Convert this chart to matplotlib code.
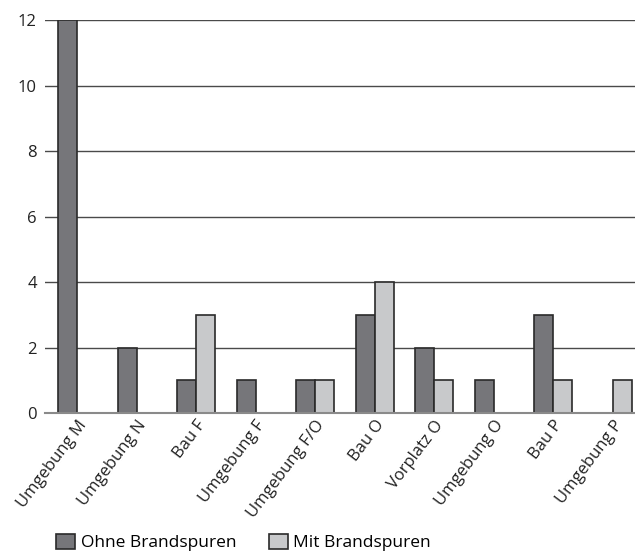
import numpy as np
import matplotlib.pyplot as plt

categories = ['Umgebung M', 'Umgebung N', 'Bau F', 'Umgebung F', 'Umgebung F/O',
              'Bau O', 'Vorplatz O', 'Umgebung O', 'Bau P', 'Umgebung P']
ohne = [12, 2, 1, 1, 1, 3, 2, 1, 3, 0]
mit = [0, 0, 3, 0, 1, 4, 1, 0, 1, 1]
yticks = [0, 2, 4, 6, 8, 10, 12]

plt.rcParams['font.family'] = ['Open Sans', 'DejaVu Sans']
plt.rcParams['font.size'] = 12

fig = plt.figure(figsize=(6.35, 5.57), dpi=100)
ax = fig.add_axes([0.071, 0.2585, 0.929, 0.7055])

x = np.arange(len(categories))
w = 0.32
dark = '#76767a'
light = '#c8c9cb'

# skip zero heights so no flat line is drawn at 0
xo = [xi for xi, v in zip(x, ohne) if v > 0]
vo = [v for v in ohne if v > 0]
xm = [xi for xi, v in zip(x, mit) if v > 0]
vm = [v for v in mit if v > 0]
ax.bar(np.array(xo) - w / 2, vo, w, color=dark, edgecolor='#2a2a2a', linewidth=1.2,
       label='Ohne Brandspuren', zorder=3)
ax.bar(np.array(xm) + w / 2, vm, w, color=light, edgecolor='#2a2a2a', linewidth=1.2,
       label='Mit Brandspuren', zorder=3)

ax.set_xlim(-0.54, 9.37)
ax.set_ylim(0, 12)
ax.set_yticks(yticks)
ax.yaxis.grid(True, color='#4a4a4a', linewidth=1.0, zorder=1)
ax.tick_params(axis='y', length=0, pad=6, colors='#222222')
ax.tick_params(axis='x', length=0, pad=3, colors='#222222')
ax.set_xticks(x)
ax.set_xticklabels(categories, rotation=53, ha='right', rotation_mode='anchor')
for s in ['top', 'right', 'left']:
    ax.spines[s].set_visible(False)
ax.spines['bottom'].set_color('#8a8a8a')
ax.spines['bottom'].set_linewidth(1.5)
ax.spines['bottom'].set_zorder(4)

fig.legend(loc='lower left', bbox_to_anchor=(0.064, -0.018), ncol=2, frameon=False,
           handlelength=1.1, handleheight=1.0, handletextpad=0.3, columnspacing=1.9,
           fontsize=12.5)

fig.savefig('out.png', dpi=100)
